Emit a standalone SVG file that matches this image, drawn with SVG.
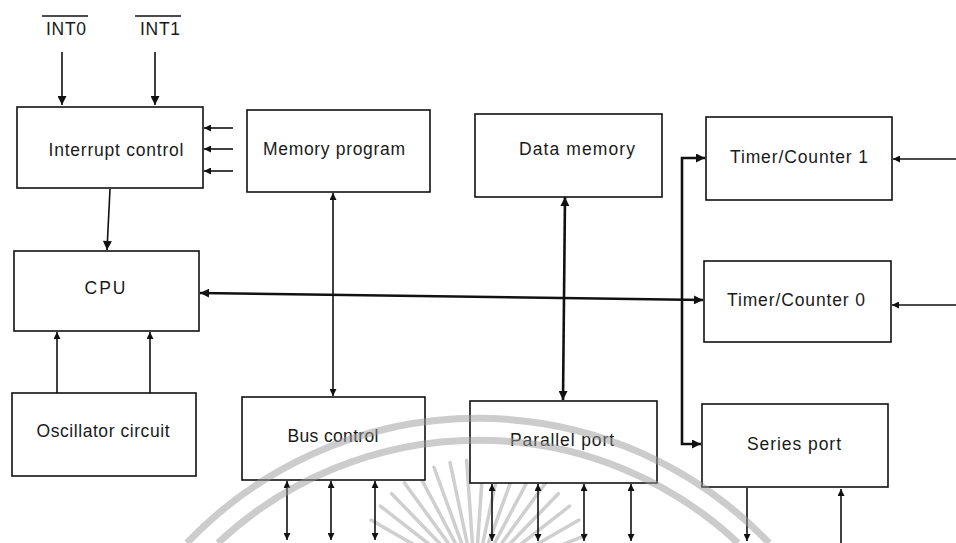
<svg xmlns="http://www.w3.org/2000/svg" width="956" height="543" viewBox="0 0 956 543">
<style>
.box{fill:#fff;stroke:#111;stroke-width:1.6}
.lbl{font-family:"Liberation Sans",Arial,sans-serif;font-size:17.5px;fill:#1a1a1a;text-anchor:middle}
.ln{stroke:#111;stroke-width:1.6;fill:none}
.thk{stroke:#111;stroke-width:2.6;fill:none}
.ray{stroke:#cfcfcf;stroke-width:3.5;stroke-linecap:round}
.band{fill:none;stroke:#9a9a9a;stroke-width:7;opacity:0.5}
</style>
<defs>
<marker id="ah" viewBox="0 0 10 10" refX="10" refY="5" markerWidth="10" markerHeight="9" markerUnits="userSpaceOnUse" orient="auto-start-reverse"><path d="M0,0 L10,5 L0,10 z" fill="#111"/></marker>
<marker id="as" viewBox="0 0 10 10" refX="10" refY="5" markerWidth="8" markerHeight="7" markerUnits="userSpaceOnUse" orient="auto-start-reverse"><path d="M0,0 L10,5 L0,10 z" fill="#111"/></marker>
<line id="r" x1="510" y1="580" x2="595" y2="580"/>
</defs>
<rect width="956" height="543" fill="#fff"/>
<g id="watermark-rays" class="ray">
<use href="#r" transform="rotate(210 475 580)"/>
<use href="#r" transform="rotate(218 475 580)"/>
<use href="#r" transform="rotate(226 475 580)"/>
<use href="#r" transform="rotate(234 475 580)"/>
<use href="#r" transform="rotate(242 475 580)"/>
<use href="#r" transform="rotate(250 475 580)"/>
<use href="#r" transform="rotate(258 475 580)"/>
<use href="#r" transform="rotate(266 475 580)"/>
<use href="#r" transform="rotate(274 475 580)"/>
<use href="#r" transform="rotate(282 475 580)"/>
<use href="#r" transform="rotate(290 475 580)"/>
<use href="#r" transform="rotate(298 475 580)"/>
<use href="#r" transform="rotate(306 475 580)"/>
<use href="#r" transform="rotate(314 475 580)"/>
<use href="#r" transform="rotate(322 475 580)"/>
<use href="#r" transform="rotate(330 475 580)"/>
<use href="#r" transform="rotate(338 475 580)"/>
</g>
<g id="connectors">
<line class="ln" x1="62" y1="52" x2="62" y2="105" marker-end="url(#ah)"/>
<line class="ln" x1="155" y1="52" x2="155" y2="105" marker-end="url(#ah)"/>
<line class="ln" x1="233" y1="128" x2="204" y2="128" marker-end="url(#as)"/>
<line class="ln" x1="233" y1="149" x2="204" y2="149" marker-end="url(#as)"/>
<line class="ln" x1="233" y1="171" x2="204" y2="171" marker-end="url(#as)"/>
<line class="ln" x1="110" y1="189" x2="107" y2="250" marker-end="url(#ah)"/>
<line class="ln" x1="57" y1="393" x2="57" y2="332" marker-end="url(#as)"/>
<line class="ln" x1="150" y1="393" x2="150" y2="332" marker-end="url(#as)"/>
<line class="thk" x1="200" y1="293" x2="703" y2="300" marker-start="url(#ah)" marker-end="url(#ah)"/>
<line class="ln" x1="333" y1="193" x2="333" y2="396" marker-start="url(#as)" marker-end="url(#as)"/>
<line class="thk" x1="565" y1="197" x2="563" y2="400" marker-start="url(#ah)" marker-end="url(#ah)"/>
<polyline class="thk" points="705,158 682,158 682,444 701,444" marker-start="url(#ah)" marker-end="url(#ah)"/>
<line class="ln" x1="956" y1="159" x2="893" y2="159" marker-end="url(#as)"/>
<line class="ln" x1="956" y1="305" x2="892" y2="305" marker-end="url(#as)"/>
<line class="ln" x1="287" y1="481" x2="287" y2="540" marker-start="url(#as)" marker-end="url(#as)"/>
<line class="ln" x1="331" y1="481" x2="331" y2="540" marker-start="url(#as)" marker-end="url(#as)"/>
<line class="ln" x1="375" y1="481" x2="375" y2="540" marker-start="url(#as)" marker-end="url(#as)"/>
<line class="ln" x1="492" y1="484" x2="492" y2="541" marker-start="url(#as)" marker-end="url(#as)"/>
<line class="ln" x1="538" y1="484" x2="538" y2="541" marker-start="url(#as)" marker-end="url(#as)"/>
<line class="ln" x1="584" y1="484" x2="584" y2="541" marker-start="url(#as)" marker-end="url(#as)"/>
<line class="ln" x1="631" y1="484" x2="631" y2="541" marker-start="url(#as)" marker-end="url(#as)"/>
<line class="ln" x1="747" y1="488" x2="747" y2="541" marker-end="url(#as)"/>
<line class="ln" x1="841" y1="545" x2="841" y2="489" marker-end="url(#as)"/>
</g>
<g id="int0">
<line x1="42" y1="16" x2="88" y2="16" stroke="#111" stroke-width="1.4"/>
<text class="lbl" x="66" y="35" font-size="16" textLength="40">INT0</text>
</g>
<g id="int1">
<line x1="135" y1="16" x2="181" y2="16" stroke="#111" stroke-width="1.4"/>
<text class="lbl" x="160" y="35" font-size="16" textLength="40">INT1</text>
</g>
<g id="interrupt-control">
<rect class="box" x="17" y="107" width="186" height="81"/>
<text class="lbl" x="116" y="156" textLength="135">Interrupt control</text>
</g>
<g id="memory-program">
<rect class="box" x="247" y="110" width="183" height="82"/>
<text class="lbl" x="334" y="155" textLength="142">Memory program</text>
</g>
<g id="data-memory">
<rect class="box" x="475" y="114" width="187" height="83"/>
<text class="lbl" x="577" y="155" textLength="116">Data memory</text>
</g>
<g id="timer-counter-1">
<rect class="box" x="706" y="117" width="186" height="83"/>
<text class="lbl" x="799" y="163" textLength="138">Timer/Counter 1</text>
</g>
<g id="cpu">
<rect class="box" x="14" y="251" width="185" height="80"/>
<text class="lbl" x="105" y="294" textLength="41">CPU</text>
</g>
<g id="timer-counter-0">
<rect class="box" x="704" y="261" width="187" height="81"/>
<text class="lbl" x="796" y="306" textLength="138">Timer/Counter 0</text>
</g>
<g id="oscillator-circuit">
<rect class="box" x="12" y="393" width="184" height="83"/>
<text class="lbl" x="103" y="437" textLength="133">Oscillator circuit</text>
</g>
<g id="bus-control">
<rect class="box" x="242" y="397" width="183" height="83"/>
<text class="lbl" x="333" y="442" textLength="91">Bus control</text>
</g>
<g id="parallel-port">
<rect class="box" x="470" y="401" width="187" height="82"/>
<text class="lbl" x="562" y="446" textLength="104">Parallel port</text>
</g>
<g id="series-port">
<rect class="box" x="702" y="404" width="186" height="83"/>
<text class="lbl" x="794" y="450" textLength="94">Series port</text>
</g>
<g id="watermark-arcs">
<path class="band" d="M187,543 A402,402 0 0 1 769,543"/>
<path class="band" d="M218,543 A380,380 0 0 1 738,543"/>
</g>
</svg>
